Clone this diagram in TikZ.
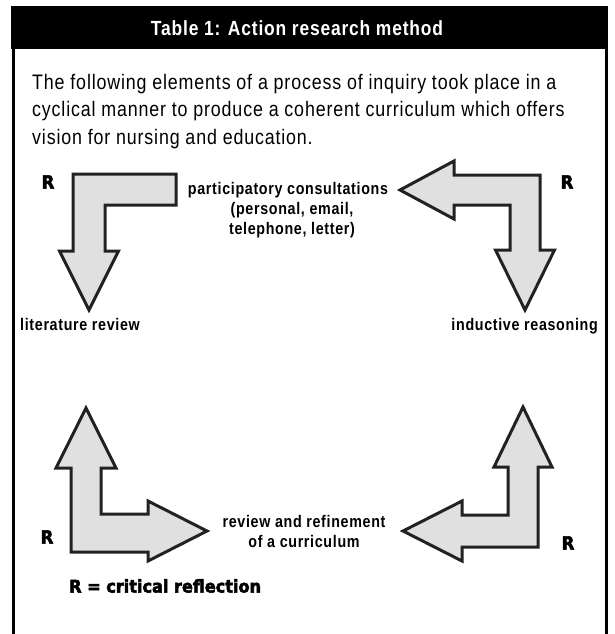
\documentclass[tikz,border=0pt]{standalone}
\usepackage{fontspec}
\setmainfont{Liberation Sans}[FakeStretch=0.85,LetterSpace=4]
\newfontfamily\heavyfont{DejaVu Sans Bold}[FakeBold=3,FakeStretch=0.92]
\definecolor{arrowgray}{HTML}{E0E0E0}
\definecolor{arrowline}{HTML}{222222}
\begin{document}
\begin{tikzpicture}[x=1pt,y=-1pt,
  arrowshape/.style={fill=arrowgray, draw=arrowline, line width=3pt, line join=miter},
  lbl/.style={font=\bfseries\fontsize{16.8}{20}\selectfont, inner sep=0pt},
  para/.style={font=\fontsize{21}{26}\selectfont, inner sep=0pt, anchor=base west},
  rmark/.style={font=\heavyfont\fontsize{18}{18}\selectfont, inner sep=0pt}]
\useasboundingbox (0,0) rectangle (614,634);
% frame
\fill[black] (11,6) rectangle (608,49);
\node[text=white, font=\bfseries\fontsize{20.5}{24}\selectfont, inner sep=0pt] (title) at (297,28) {Table 1: Action research method};
\draw[line width=3.5pt] (13.5,48) -- (13.5,634);
\draw[line width=2.5pt] (606.5,48) -- (606.5,634);
% paragraph
\node[para] (p1) at (32,89) {The following elements of a process of inquiry took place in a};
\node[para] (p2) at (32,116.5) {cyclical manner to produce a coherent curriculum which offers};
\node[para] (p3) at (32,144) {vision for nursing and education.};
% arrows
\draw[arrowshape] (176,174) -- (73,174) -- (73,251) -- (59.5,251) -- (89,310) -- (118.5,251) -- (105,251) -- (105,205) -- (176,205) -- cycle;
\draw[arrowshape] (400,190) -- (454,161) -- (454,175) -- (540,175) -- (540,250) -- (554.5,250) -- (525,310) -- (495.5,250) -- (510,250) -- (510,205) -- (454,205) -- (454,219) -- cycle;
\draw[arrowshape] (86,408) -- (116,468) -- (101,468) -- (101,514) -- (148,514) -- (148,501) -- (207,531) -- (148,561) -- (148,552) -- (71,552) -- (71,468) -- (56,468) -- cycle;
\draw[arrowshape] (403,531) -- (462,501) -- (462,515) -- (508,515) -- (508,467) -- (494,467) -- (523,407) -- (552,467) -- (538,467) -- (538,547) -- (462,547) -- (462,561) -- cycle;
% labels
\node[lbl, anchor=base] (pc1) at (288,194) {participatory consultations};
\node[lbl, anchor=base] (pc2) at (292,214) {(personal, email,};
\node[lbl, anchor=base] (pc3) at (292,234) {telephone, letter)};
\node[lbl, anchor=base west] (lit) at (20,330) {literature review};
\node[lbl, anchor=base east] (ind) at (598,330) {inductive reasoning};
\node[lbl, anchor=base] (rr1) at (304,527) {review and refinement};
\node[lbl, anchor=base] (rr2) at (304,547) {of a curriculum};
% R marks
\node[rmark] (r1) at (48,182) {R};
\node[rmark] (r2) at (567,182) {R};
\node[rmark] (r3) at (47,537) {R};
\node[rmark] (r4) at (568,543) {R};
\node[rmark, anchor=west, font=\heavyfont\fontsize{17.5}{18}\selectfont] (legend) at (69,586) {R = critical reflection};
\end{tikzpicture}
\end{document}
